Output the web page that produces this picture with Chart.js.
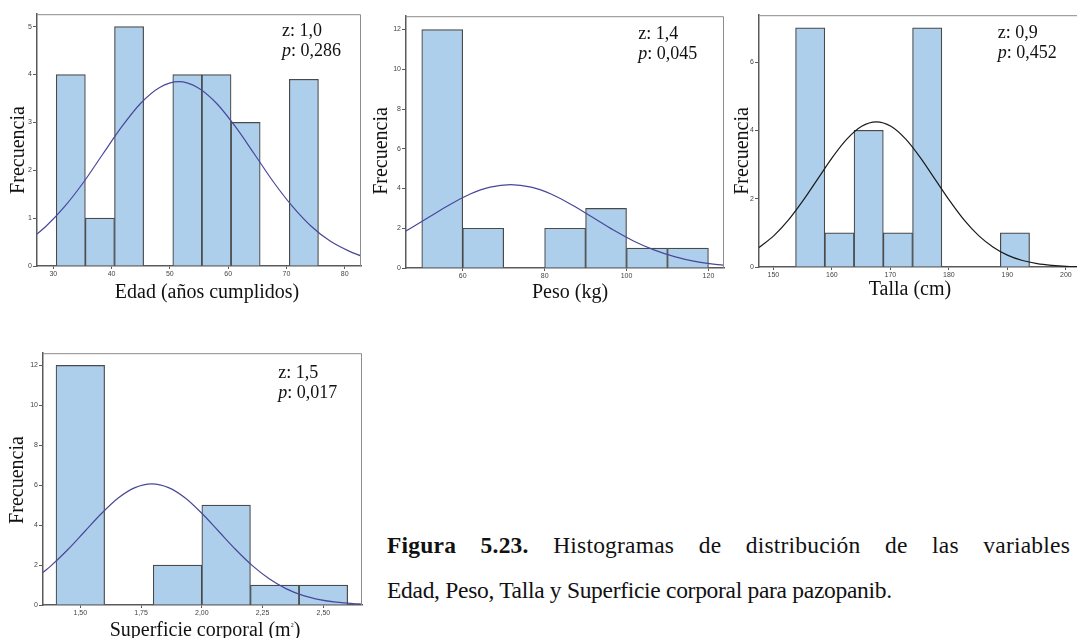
<!DOCTYPE html>
<html lang="es">
<head>
<meta charset="utf-8">
<title>Histogramas – pazopanib</title>
<script src="https://cdn.jsdelivr.net/npm/chart.js@4.4.1/dist/chart.umd.min.js"></script>
<style>
  html, body { margin: 0; padding: 0; background: #fff; }
  body { position: relative; width: 1077px; height: 638px; overflow: hidden; }
  canvas { position: absolute; }
  .txt { position: absolute; font-family: "Liberation Serif", "Times New Roman", serif; color: #111; white-space: nowrap; z-index: 2; }
  .ytitle { width: 120px; height: 20px; line-height: 20px; font-size: 20px; text-align: center; transform: rotate(-90deg); }
  .xtitle { width: 300px; line-height: 20px; font-size: 20px; text-align: center; }
  .stat { font-size: 18px; line-height: 20px; }
  .stat div { white-space: nowrap; }
  .caption { left: 387px; top: 523px; width: 683px; font-size: 23.5px; line-height: 45px; letter-spacing: -0.3px; white-space: normal; }
  .caption .l1 { text-align: justify; text-align-last: justify; white-space: nowrap; letter-spacing: 0.2px; }
  sup.sq { font-size: 6px; vertical-align: 9px; }
</style>
</head>
<body>

<canvas id="cEdad"></canvas>
<canvas id="cPeso"></canvas>
<canvas id="cTalla"></canvas>
<canvas id="cSup"></canvas>

<!-- axis titles -->
<div class="txt ytitle" style="left:-43.3px; top:140px;">Frecuencia</div>
<div class="txt ytitle" style="left:320px; top:141px;">Frecuencia</div>
<div class="txt ytitle" style="left:681.3px; top:141px;">Frecuencia</div>
<div class="txt ytitle" style="left:-43.7px; top:469.5px;">Frecuencia</div>

<div class="txt xtitle" style="left:57px; top:281px;">Edad (años cumplidos)</div>
<div class="txt xtitle" style="left:420px; top:281px;">Peso (kg)</div>
<div class="txt xtitle" style="left:760px; top:277.5px;">Talla (cm)</div>
<div class="txt xtitle" style="left:55px; top:615px;">Superficie corporal (m<sup class="sq">2</sup>)</div>

<!-- normality test results -->
<div class="txt stat" style="left:282px; top:19.6px;"><div>z: 1,0</div><div><i>p</i>: 0,286</div></div>
<div class="txt stat" style="left:638.3px; top:22.9px;"><div>z: 1,4</div><div><i>p</i>: 0,045</div></div>
<div class="txt stat" style="left:997.7px; top:21.6px;"><div>z: 0,9</div><div><i>p</i>: 0,452</div></div>
<div class="txt stat" style="left:278.3px; top:362.2px;"><div>z: 1,5</div><div><i>p</i>: 0,017</div></div>

<div class="txt caption">
  <div class="l1"><b>Figura 5.23.</b> Histogramas de distribución de las variables</div>
  <div>Edad, Peso, Talla y Superficie corporal para pazopanib.</div>
</div>

<script>
// ---- Edad (años cumplidos) ----
const edadBins   = [33, 38, 43, 53, 58, 63, 73];
const edadCounts = [4, 1, 5, 4, 4, 3, 3.9];
const edadCurveX = [27.2, 28.75, 32, 35.25, 38.5, 41.75, 45, 48.25, 51.5, 54.75, 58, 61.25, 64.5, 67.75, 71, 74.25, 77.5, 80.75, 82.8];
const edadCurveY = [0.67, 0.83, 1.25, 1.76, 2.34, 2.91, 3.40, 3.73, 3.85, 3.73, 3.40, 2.91, 2.34, 1.76, 1.25, 0.83, 0.52, 0.31, 0.21];
const edadXTicks = [30, 40, 50, 60, 70, 80];
const edadXLabels = ['30', '40', '50', '60', '70', '80'];
const edadYTicks = [0, 1, 2, 3, 4, 5];

// ---- Peso (kg) ----
const pesoBins   = [55, 65, 85, 95, 105, 115];
const pesoCounts = [12, 2, 2, 3, 1, 1];
const pesoCurveX = [46.15, 51.7, 56.7, 61.7, 66.7, 71.7, 76.7, 81.7, 86.7, 91.7, 96.7, 101.7, 106.7, 111.7, 116.7, 121.7, 123.8];
const pesoCurveY = [1.86, 2.55, 3.17, 3.71, 4.07, 4.20, 4.07, 3.71, 3.17, 2.55, 1.92, 1.36, 0.91, 0.57, 0.33, 0.18, 0.14];
const pesoXTicks = [60, 80, 100, 120];
const pesoXLabels = ['60', '80', '100', '120'];
const pesoYTicks = [0, 2, 4, 6, 8, 10, 12];

// ---- Talla (cm) ----
const tallaBins   = [156.3, 161.3, 166.3, 171.3, 176.3, 191.3];
const tallaCounts = [7, 1, 4, 1, 7, 1];
const tallaCurveX = [147.55, 150.1, 152.6, 155.1, 157.6, 160.1, 162.6, 165.1, 167.6, 170.1, 172.6, 175.1, 177.6, 180.1, 182.6, 185.1, 187.6, 190.1, 192.6, 195.1, 197.6, 200.1, 202.1];
const tallaCurveY = [0.57, 0.92, 1.38, 1.95, 2.58, 3.21, 3.75, 4.12, 4.25, 4.12, 3.75, 3.21, 2.58, 1.95, 1.38, 0.92, 0.58, 0.34, 0.19, 0.10, 0.05, 0.02, 0.01];
const tallaXTicks = [150, 160, 170, 180, 190, 200];
const tallaXLabels = ['150', '160', '170', '180', '190', '200'];
const tallaYTicks = [0, 2, 4, 6];

// ---- Superficie corporal (m²) ----
const supBins   = [1.5, 1.9, 2.1, 2.3, 2.5];
const supCounts = [12, 2, 5, 1, 1];
const supCurveX = [1.3465, 1.380, 1.449, 1.518, 1.587, 1.656, 1.725, 1.794, 1.863, 1.932, 2.001, 2.070, 2.139, 2.208, 2.277, 2.346, 2.415, 2.484, 2.553, 2.622, 2.659];
const supCurveY = [1.63, 1.97, 2.78, 3.68, 4.58, 5.36, 5.88, 6.07, 5.88, 5.36, 4.58, 3.68, 2.78, 1.97, 1.31, 0.82, 0.48, 0.27, 0.14, 0.07, 0.05];
const supXTicks = [1.5, 1.75, 2.0, 2.25, 2.5];
const supXLabels = ['1,50', '1,75', '2,00', '2,25', '2,50'];
const supYTicks = [0, 2, 4, 6, 8, 10, 12];

// ---- shared styling ----
const BAR_FILL = '#aecfec';
const BAR_EDGE = '#4a4a4a';
const CURVE_BLUE = '#48489a';
const CURVE_BLACK = '#1a1a1a';
const AXIS_COLOR = '#5a5a5a';
const FRAME_COLOR = '#8c8c8c';
const TICK_TEXT = '#4a4242';
const Y_AXIS_W = 24, X_AXIS_H = 16, PAD_T = 4, PAD_R = 4;

// light frame on the top and right sides of the plot area
const framePlugin = {
  id: 'plotFrame',
  afterDraw(chart) {
    const { ctx, chartArea: a } = chart;
    ctx.save();
    ctx.strokeStyle = FRAME_COLOR;
    ctx.lineWidth = 1;
    ctx.beginPath();
    ctx.moveTo(a.left, a.top + 0.5);
    ctx.lineTo(a.right - 0.5, a.top + 0.5);
    ctx.lineTo(a.right - 0.5, a.bottom);
    ctx.stroke();
    ctx.restore();
  }
};

function histogram(id, plot, s) {
  const canvas = document.getElementById(id);
  const cw = plot.w + Y_AXIS_W + PAD_R;
  const ch = plot.h + PAD_T + X_AXIS_H;
  canvas.width = cw; canvas.height = ch;
  canvas.style.width = cw + 'px'; canvas.style.height = ch + 'px';
  canvas.style.left = (plot.left - Y_AXIS_W) + 'px';
  canvas.style.top = (plot.top - PAD_T) + 'px';

  const tickFont = { family: 'Liberation Sans, Arial, sans-serif', size: 7 };

  return new Chart(canvas, {
    type: 'bar',
    data: {
      datasets: [
        {
          type: 'bar',
          data: s.bins.map((x, i) => ({ x, y: s.counts[i] })),
          backgroundColor: BAR_FILL,
          borderColor: BAR_EDGE,
          borderWidth: 1.2,
          barPercentage: 1,
          categoryPercentage: 1,
          order: 1
        },
        {
          type: 'line',
          data: s.curveX.map((x, i) => ({ x, y: s.curveY[i] })),
          borderColor: s.curveColor,
          borderWidth: 1.2,
          pointRadius: 0,
          fill: false,
          cubicInterpolationMode: 'monotone',
          order: 0
        }
      ]
    },
    options: {
      responsive: false,
      animation: false,
      devicePixelRatio: 1,
      events: [],
      layout: { padding: { top: PAD_T, right: PAD_R, left: 0, bottom: 0 } },
      plugins: { legend: { display: false }, tooltip: { enabled: false } },
      scales: {
        x: {
          type: 'linear',
          min: s.xMin, max: s.xMax,
          offset: false,
          grid: { display: true, drawOnChartArea: false, drawTicks: true, tickLength: 3, color: AXIS_COLOR, offset: false },
          border: { display: true, color: AXIS_COLOR, width: 1.5 },
          ticks: {
            font: tickFont, color: TICK_TEXT, padding: 1, maxRotation: 0, autoSkip: false,
            callback: (v, i) => s.xLabels[i]
          },
          afterBuildTicks: sc => { sc.ticks = s.xTicks.map(v => ({ value: v })); },
          afterFit: sc => { sc.height = X_AXIS_H; }
        },
        y: {
          type: 'linear',
          min: 0, max: s.yMax,
          grid: { display: true, drawOnChartArea: false, drawTicks: true, tickLength: 4, color: AXIS_COLOR },
          border: { display: true, color: AXIS_COLOR, width: 1.5 },
          ticks: { font: tickFont, color: TICK_TEXT, padding: 1, autoSkip: false, callback: v => String(v) },
          afterBuildTicks: sc => { sc.ticks = s.yTicks.map(v => ({ value: v })); },
          afterFit: sc => { sc.width = Y_AXIS_W; }
        }
      }
    },
    plugins: [framePlugin]
  });
}

histogram('cEdad', { left: 37, top: 13, w: 324, h: 253 }, {
  bins: edadBins, counts: edadCounts, curveX: edadCurveX, curveY: edadCurveY,
  xTicks: edadXTicks, xLabels: edadXLabels, yTicks: edadYTicks,
  xMin: 27.2, xMax: 82.8, yMax: 5.26, curveColor: CURVE_BLUE
});

histogram('cPeso', { left: 406, top: 15, w: 318, h: 253 }, {
  bins: pesoBins, counts: pesoCounts, curveX: pesoCurveX, curveY: pesoCurveY,
  xTicks: pesoXTicks, xLabels: pesoXLabels, yTicks: pesoYTicks,
  xMin: 46.15, xMax: 123.8, yMax: 12.67, curveColor: CURVE_BLUE
});

histogram('cTalla', { left: 759, top: 14, w: 319, h: 253 }, {
  bins: tallaBins, counts: tallaCounts, curveX: tallaCurveX, curveY: tallaCurveY,
  xTicks: tallaXTicks, xLabels: tallaXLabels, yTicks: tallaYTicks,
  xMin: 147.55, xMax: 202.08, yMax: 7.37, curveColor: CURVE_BLACK
});

histogram('cSup', { left: 43, top: 352, w: 319, h: 253 }, {
  bins: supBins, counts: supCounts, curveX: supCurveX, curveY: supCurveY,
  xTicks: supXTicks, xLabels: supXLabels, yTicks: supYTicks,
  xMin: 1.3465, xMax: 2.659, yMax: 12.61, curveColor: CURVE_BLUE
});
</script>
</body>
</html>
